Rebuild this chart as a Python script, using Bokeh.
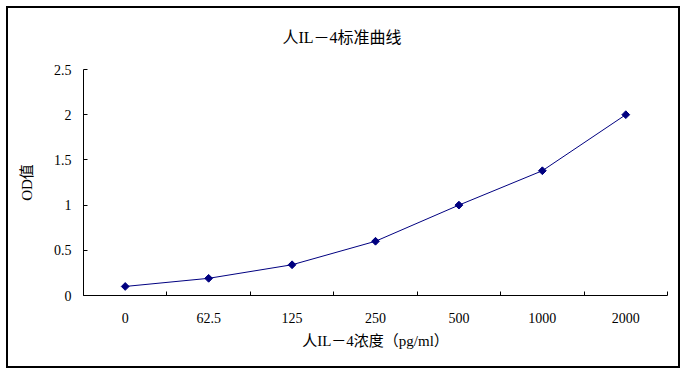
import math
from bokeh.plotting import figure
from bokeh.models import Range1d, FixedTicker, Title
from bokeh.embed import file_html
from bokeh.resources import INLINE

categories = ["0", "62.5", "125", "250", "500", "1000", "2000"]
od_values = [0.10, 0.19, 0.34, 0.60, 1.00, 1.38, 2.00]
y_ticks = [0, 0.5, 1, 1.5, 2, 2.5]
y_tick_labels = ["0", "0.5", "1", "1.5", "2", "2.5"]
title_text = "人IL－4标准曲线"
x_title = "人IL－4浓度（pg/ml）"
y_title = "OD值"

FONT = "'Liberation Serif', 'Noto Sans CJK SC'"

n = len(categories)
xs = [i + 0.5 for i in range(n)]

p = figure(width=686, height=374, output_backend="svg", toolbar_location=None,
           x_range=Range1d(0, n), y_range=Range1d(y_ticks[0], y_ticks[-1]),
           min_border_left=83, min_border_right=19, min_border_top=69, min_border_bottom=79)
p.styles = {"outline": "2px solid black", "outline-offset": "-8px"}
p.outline_line_color = None
p.xgrid.visible = False
p.ygrid.visible = False
p.background_fill_color = "white"
p.border_fill_color = None

p.line(xs, od_values, line_color="#000080", line_width=1)
p.scatter(xs, od_values, marker="square", angle=math.pi / 4, size=5.5,
          fill_color="#000080", line_color="#000080")

# x axis: labels at category centres, ticks at category boundaries
xa = p.xaxis[0]
xa.ticker = FixedTicker(ticks=xs, minor_ticks=list(range(n + 1)))
xa.major_label_overrides = {x: c for x, c in zip(xs, categories)}
xa.major_tick_line_color = None
xa.minor_tick_in = 4
xa.minor_tick_out = 0
xa.minor_tick_line_color = "black"
xa.axis_line_color = "black"
xa.major_label_standoff = 11
xa.major_label_text_font = FONT
xa.major_label_text_font_size = "14px"
xa.major_label_text_color = "black"
xa.axis_label = x_title
xa.axis_label_text_font = FONT
xa.axis_label_text_font_size = "15px"
xa.axis_label_text_font_style = "normal"
xa.axis_label_text_color = "black"
xa.axis_label_standoff = 7

ya = p.yaxis[0]
ya.ticker = FixedTicker(ticks=y_ticks, minor_ticks=[])
ya.major_label_overrides = {t: l for t, l in zip(y_ticks, y_tick_labels)}
ya.major_tick_in = 4
ya.major_tick_out = 0
ya.major_tick_line_color = "black"
ya.minor_tick_line_color = None
ya.axis_line_color = "black"
ya.major_label_standoff = 12
ya.major_label_text_font = FONT
ya.major_label_text_font_size = "14px"
ya.major_label_text_color = "black"
ya.axis_label = y_title
ya.axis_label_text_font = FONT
ya.axis_label_text_font_size = "15px"
ya.axis_label_text_font_style = "normal"
ya.axis_label_text_color = "black"
ya.axis_label_standoff = 16

p.title = Title(text=title_text, align="left", offset=199, standoff=47,
                text_font=FONT, text_font_size="16px", text_font_style="normal",
                text_color="black")

open("out.html", "w").write(file_html(p, INLINE))
